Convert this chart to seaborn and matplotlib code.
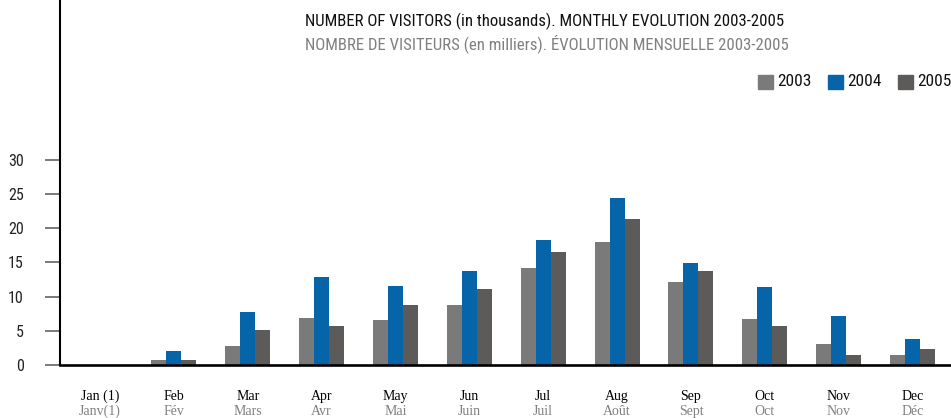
import pandas as pd
import matplotlib.pyplot as plt
import matplotlib.transforms as mtransforms
import seaborn as sns

months_en = ["Jan (1)", "Feb", "Mar", "Apr", "May", "Jun", "Jul", "Aug", "Sep", "Oct", "Nov", "Dec"]
months_fr = ["Janv(1)", "Fév", "Mars", "Avr", "Mai", "Juin", "Juil", "Août", "Sept", "Oct", "Nov", "Déc"]
years = ["2003", "2004", "2005"]
visitors_2003 = [0, 0.7, 2.8, 6.9, 6.6, 8.8, 14.2, 18.0, 12.2, 6.7, 3.1, 1.5]
visitors_2004 = [0, 2.0, 7.8, 12.9, 11.6, 13.8, 18.3, 24.4, 14.9, 11.4, 7.2, 3.8]
visitors_2005 = [0, 0.7, 5.1, 5.7, 8.8, 11.1, 16.5, 21.4, 13.8, 5.7, 1.5, 2.3]
yticks = [0, 5, 10, 15, 20, 25, 30]

colors = {"2003": "#7a7a7a", "2004": "#0565a8", "2005": "#5c5b5a"}

sns.set_style("white")
plt.rcParams['font.family'] = ['Roboto Condensed', 'Liberation Sans Narrow', 'Liberation Sans', 'DejaVu Sans']
serif = ['Liberation Serif', 'DejaVu Serif']

df = pd.DataFrame({
    "month": months_en * 3,
    "year": sum([[y] * 12 for y in years], []),
    "visitors": visitors_2003 + visitors_2004 + visitors_2005,
})

fig = plt.figure(figsize=(9.51, 4.18), dpi=100)
ax = fig.add_axes([60 / 951, 53 / 418, 1 - 60 / 951, 1 - 53 / 418])

sns.barplot(data=df, x="month", y="visitors", hue="year", order=months_en,
            hue_order=years, palette=colors, width=0.61, saturation=1,
            linewidth=0, legend=False, ax=ax)

ax.set_xlim(-0.54, 11.52)
ax.set_ylim(0, 53.4)
ax.set_xlabel("")
ax.set_ylabel("")

for side in ["top", "right"]:
    ax.spines[side].set_visible(False)
ax.spines["left"].set_linewidth(1.5)
ax.spines["left"].set_color("black")
ax.spines["bottom"].set_linewidth(1.9)
ax.spines["bottom"].set_color("black")

ax.set_yticks(yticks)
ax.set_yticklabels([str(t) for t in yticks], fontsize=11.5, color="#222222")
ax.tick_params(axis="y", direction="out", length=11, width=1.1, color="#555555", pad=15, left=True)

ax.set_xticks(range(12))
ax.set_xticklabels([])
ax.tick_params(axis="x", length=0)

# month names, english on top and french in grey below
trans = mtransforms.blended_transform_factory(ax.transData, fig.transFigure)
for i in range(12):
    ax.text(i, 1 - 400 / 418, months_en[i], transform=trans, ha="center", va="baseline",
            fontsize=10, family=serif, color="black")
    ax.text(i, 1 - 415 / 418, months_fr[i], transform=trans, ha="center", va="baseline",
            fontsize=10, family=serif, color="#808080")

fig.text(305 / 951, 1 - 21 / 418, "NUMBER OF VISITORS (in thousands). MONTHLY EVOLUTION 2003-2005",
         fontsize=12.1, color="#111111", va="center", ha="left")
fig.text(305 / 951, 1 - 44 / 418, "NOMBRE DE VISITEURS (en milliers). ÉVOLUTION MENSUELLE 2003-2005",
         fontsize=12.1, color="#808080", va="center", ha="left")

# legend drawn by hand as boxes + labels
leg_x = [758, 828, 898]
for x, y in zip(leg_x, years):
    fig.patches.append(plt.Rectangle((x / 951, 1 - 89 / 418), 15 / 951, 14 / 418,
                                     transform=fig.transFigure, color=colors[y]))
    fig.text((x + 19) / 951, 1 - 82 / 418, y, fontsize=12.5, color="#111111",
             va="center", ha="left")

plt.savefig("out.png", dpi=100)
